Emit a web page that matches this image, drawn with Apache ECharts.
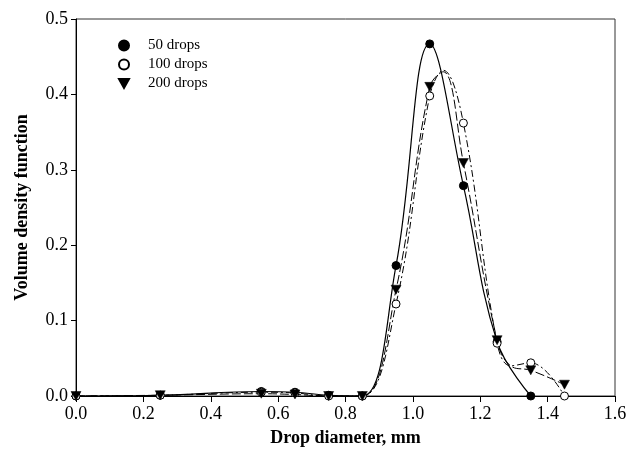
<!DOCTYPE html>
<html><head><meta charset="utf-8">
<script src="https://cdn.jsdelivr.net/npm/echarts@6/dist/echarts.min.js"></script>
<style>html,body{margin:0;padding:0;background:#fff}#c{width:633px;height:454px}</style>
</head><body><div id="c"></div>
<script>
// Measured drop diameters (mm)
var diam50 = [0.0, 0.25, 0.55, 0.65, 0.75, 0.85, 0.95, 1.05, 1.15, 1.25, 1.35];
var vol50  = [0.0, 0.001, 0.006, 0.005, 0.001, 0.0, 0.173, 0.467, 0.279, 0.072, 0.0];
var diam100 = [0.0, 0.25, 0.55, 0.65, 0.75, 0.85, 0.95, 1.05, 1.15, 1.25, 1.35, 1.45];
var vol100  = [0.0, 0.001, 0.005, 0.004, 0.0, 0.0, 0.122, 0.398, 0.362, 0.070, 0.044, 0.0];
var diam200 = [0.0, 0.25, 0.55, 0.65, 0.75, 0.85, 0.95, 1.05, 1.15, 1.25, 1.35, 1.45];
var vol200  = [0.0, 0.001, 0.003, 0.002, 0.0, 0.0, 0.141, 0.410, 0.309, 0.074, 0.034, 0.015];
// Fitted curves
var fitX50 = [0.0, 0.25, 0.55, 0.65, 0.75, 0.85, 0.95, 1.05, 1.15, 1.25, 1.35];
var fitY50 = [0.0, 0.001, 0.006, 0.005, 0.001, 0.0, 0.173, 0.467, 0.279, 0.072, 0.0];
var fitX100 = [0.0, 0.25, 0.55, 0.65, 0.75, 0.85, 0.95, 1.05, 1.09, 1.15, 1.25, 1.29, 1.35, 1.45];
var fitY100 = [0.0, 0.001, 0.005, 0.004, 0.0, 0.0, 0.122, 0.398, 0.432, 0.362, 0.070, 0.040, 0.044, 0.0];
var fitX200 = [0.0, 0.25, 0.55, 0.65, 0.75, 0.85, 0.95, 1.05, 1.09, 1.15, 1.25, 1.29, 1.35, 1.45];
var fitY200 = [0.0, 0.001, 0.003, 0.002, 0.0, 0.0, 0.141, 0.410, 0.430, 0.309, 0.074, 0.040, 0.034, 0.015];
var names = ['50 drops', '100 drops', '200 drops'];

function pairs(x, y) { return x.map(function (v, i) { return [v, y[i]]; }); }
var FONT = 'Liberation Serif';
var chart = echarts.init(document.getElementById('c'));
var tri = 'path://M0,0 L10,0 L5,9 Z';
chart.setOption({
  animation: false,
  grid: { left: 76, right: 18, top: 19, bottom: 58, show: true, borderColor: '#333', borderWidth: 1 },
  legend: {
    data: names, orient: 'vertical', left: 118, top: 38, itemGap: 4, padding: 0,
    itemWidth: 10, itemHeight: 10,
    textStyle: { fontFamily: FONT, fontSize: 15, color: '#000', padding: [0, 0, 0, 14] }
  },
  xAxis: {
    type: 'value', min: 0, max: 1.6, interval: 0.2,
    name: 'Drop diameter, mm', nameLocation: 'middle', nameGap: 33,
    nameTextStyle: { fontFamily: FONT, fontSize: 18, fontWeight: 'bold', color: '#000' },
    axisLine: { lineStyle: { color: '#000' } },
    axisTick: { length: 6, lineStyle: { color: '#000' } },
    axisLabel: { fontFamily: FONT, fontSize: 18, color: '#000', margin: 9, formatter: function (v) { return v.toFixed(1); } },
    splitLine: { show: false }
  },
  yAxis: {
    type: 'value', min: 0, max: 0.5, interval: 0.1,
    name: 'Volume density function', nameLocation: 'middle', nameGap: 45,
    nameTextStyle: { fontFamily: FONT, fontSize: 18, fontWeight: 'bold', color: '#000' },
    axisLine: { show: true, lineStyle: { color: '#000' } },
    axisTick: { show: true, length: 5, lineStyle: { color: '#000' } },
    axisLabel: { fontFamily: FONT, fontSize: 18, color: '#000', margin: 8, formatter: function (v) { return v.toFixed(1); } },
    splitLine: { show: false }
  },
  series: [
    { type: 'line', data: pairs(fitX50, fitY50), smooth: 0.4, showSymbol: false, symbol: 'none', clip: true,
      lineStyle: { color: '#000', width: 1.2, type: 'solid' }, silent: true },
    { type: 'line', data: pairs(fitX100, fitY100), smooth: 0.4, showSymbol: false, symbol: 'none', clip: true,
      lineStyle: { color: '#000', width: 1, type: [7, 3, 2, 3] }, silent: true },
    { type: 'line', data: pairs(fitX200, fitY200), smooth: 0.4, showSymbol: false, symbol: 'none', clip: true,
      lineStyle: { color: '#000', width: 1, type: [9, 3] }, silent: true },
    { name: names[0], type: 'scatter', data: pairs(diam50, vol50), symbol: 'circle', symbolSize: 8,
      itemStyle: { color: '#000', borderColor: '#000', borderWidth: 1, opacity: 1 }, z: 5 },
    { name: names[1], type: 'scatter', data: pairs(diam100, vol100), symbol: 'circle', symbolSize: 8,
      itemStyle: { color: '#fff', borderColor: '#000', borderWidth: 1, opacity: 1 }, z: 6 },
    { name: names[2], type: 'scatter', data: pairs(diam200, vol200), symbol: tri, symbolSize: [10, 9],
      itemStyle: { color: '#000', borderColor: '#000', borderWidth: 0.5, opacity: 1 }, z: 7 }
  ]
});
</script></body></html>
